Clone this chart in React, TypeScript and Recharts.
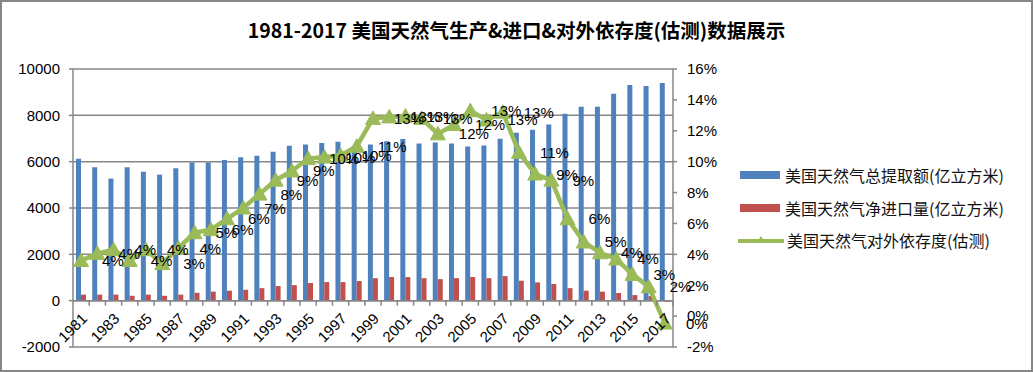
import React from "react";
import {
  ComposedChart,
  Bar,
  Line,
  XAxis,
  YAxis,
  CartesianGrid,
  ReferenceLine,
  Legend,
  LabelList,
} from "recharts";

const years = [
  "1981", "1982", "1983", "1984", "1985", "1986", "1987", "1988", "1989", "1990",
  "1991", "1992", "1993", "1994", "1995", "1996", "1997", "1998", "1999", "2000",
  "2001", "2002", "2003", "2004", "2005", "2006", "2007", "2008", "2009", "2010",
  "2011", "2012", "2013", "2014", "2015", "2016", "2017",
];

// 美国天然气总提取额(亿立方米)
const production = [
  6130, 5760, 5270, 5760, 5570, 5440, 5720, 5960, 5960, 6070,
  6190, 6260, 6430, 6690, 6740, 6810, 6860, 6650, 6740, 6880,
  6980, 6780, 6830, 6780, 6660, 6700, 6990, 7250, 7380, 7600,
  8070, 8370, 8370, 8930, 9310, 9270, 9400,
];

// 美国天然气净进口量(亿立方米)
const netImports = [
  260, 260, 260, 210, 260, 210, 260, 340, 390, 430,
  470, 540, 630, 670, 760, 800, 800, 850, 970, 1020,
  1020, 970, 930, 970, 1020, 970, 1060, 860, 790, 720,
  540, 430, 390, 330, 240, 200, -45,
];

// 美国天然气对外依存度(估测), %
const dependence = [
  3.6, 4.05, 4.3, 3.6, 4.3, 3.4, 4.4, 5.4, 5.6, 6.3,
  7.0, 7.9, 8.8, 9.4, 10.2, 10.3, 10.4, 11.0, 12.8, 12.9,
  12.95, 12.8, 11.8, 12.4, 13.3, 12.7, 13.2, 10.6, 9.2, 8.8,
  6.3, 4.8, 4.1, 3.7, 2.7, 1.9, -0.45,
];

const leftTicks = [-2000, 0, 2000, 4000, 6000, 8000, 10000];
const rightTicks = [-2, 0, 2, 4, 6, 8, 10, 12, 14, 16];

const seriesNames = [
  "美国天然气总提取额(亿立方米)",
  "美国天然气净进口量(亿立方米)",
  "美国天然气对外依存度(估测)",
];

const data = years.map((year, i) => ({
  year,
  production: production[i],
  netImports: netImports[i],
  dependence: dependence[i],
}));

const W = 1033;
const H = 372;
const PLOT_LEFT = 73;
const PLOT_RIGHT = 673;
const PLOT_TOP = 69;
const PLOT_BOTTOM = 347;
const LEFT_MIN = leftTicks[0];
const LEFT_MAX = leftTicks[leftTicks.length - 1];

const GRAY = "#868686";
const BLUE = "#4F81BD";
const RED = "#C0504D";
const GREEN = "#9BBB59";
const NUM_FONT = "'Liberation Sans', Arial, sans-serif";
const CJK_FONT = "'Noto Sans CJK SC', 'Noto Sans', sans-serif";

const zeroY =
  PLOT_BOTTOM - ((PLOT_BOTTOM - PLOT_TOP) * (0 - LEFT_MIN)) / (LEFT_MAX - LEFT_MIN);
const band = (PLOT_RIGHT - PLOT_LEFT) / years.length;

const XTick = (props: any) => {
  const { x, payload, index } = props;
  const tx = x + 7;
  const ty = zeroY + 19;
  return (
    <g>
      <line x1={x + band / 2} x2={x + band / 2} y1={zeroY} y2={zeroY + 5} stroke={GRAY} strokeWidth={1.5} />
      {index % 2 === 0 && (
        <text
          x={tx}
          y={ty}
          textAnchor="end"
          fontSize={15}
          fontFamily={NUM_FONT}
          fill="#000"
          transform={`rotate(-45 ${tx} ${ty})`}
        >
          {payload.value}
        </text>
      )}
    </g>
  );
};

const Triangle = (props: any) => {
  const { cx, cy, index } = props;
  if (cx == null || cy == null) return <g key={index} />;
  return (
    <path
      key={index}
      d={`M${cx},${cy - 7.5} L${cx + 7.5},${cy + 6} L${cx - 7.5},${cy + 6} Z`}
      fill={GREEN}
      stroke={GREEN}
    />
  );
};

const PercentLabel = (props: any) => {
  const { x, y, value } = props;
  return (
    <text
      x={x + 21}
      y={y}
      dominantBaseline="central"
      fontSize={15}
      fontFamily={NUM_FONT}
      fill="#000"
    >
      {`${Math.abs(Math.round(value))}%`}
    </text>
  );
};

const LegendBox = ({ payload }: any) => {
  const items = (payload || [])
    .slice()
    .sort((a: any, b: any) => seriesNames.indexOf(a.value) - seriesNames.indexOf(b.value));
  return (
    <div style={{ fontFamily: CJK_FONT, fontSize: 16, color: "#111" }}>
      {items.map((p: any, i: number) => (
        <div key={i} style={{ display: "flex", alignItems: "center", height: 32.5 }}>
          {p.type === "line" ? (
            <svg width={46} height={12} style={{ marginRight: 3 }}>
              <line x1={1} x2={45} y1={7} y2={7} stroke={GREEN} strokeWidth={4} strokeLinecap="round" />
              <path d="M23,2 L27,8 L19,8 Z" fill={GREEN} />
            </svg>
          ) : (
            <div style={{ width: 40, height: 8, background: p.color, marginLeft: 2, marginRight: 5 }} />
          )}
          <span>{p.value}</span>
        </div>
      ))}
    </div>
  );
};

export default function App() {
  return (
    <div style={{ position: "absolute", left: 0, top: 0, width: W, height: H, background: "#fff" }}>
      <div
        style={{
          position: "absolute",
          left: 0,
          top: 16,
          width: W,
          textAlign: "center",
          fontFamily: CJK_FONT,
          fontWeight: 700,
          fontSize: 19.5,
          lineHeight: "28px",
          color: "#000",
        }}
      >
        1981-2017 美国天然气生产&amp;进口&amp;对外依存度(估测)数据展示
      </div>
      <div style={{ position: "absolute", left: 0, top: 0 }}>
        <ComposedChart
          width={W}
          height={H}
          data={data}
          margin={{ top: PLOT_TOP, right: W - PLOT_RIGHT - 60, bottom: 0, left: 0 }}
          barSize={5}
          barGap={0}
        >
          <CartesianGrid yAxisId="left" horizontal vertical={false} stroke={GRAY} strokeWidth={1.5} />
          <XAxis
            dataKey="year"
            interval={0}
            height={H - PLOT_BOTTOM}
            axisLine={false}
            tickLine={false}
            tickSize={0}
            tick={<XTick />}
          />
          <YAxis
            yAxisId="left"
            width={PLOT_LEFT}
            domain={[LEFT_MIN, LEFT_MAX]}
            ticks={leftTicks}
            interval={0}
            axisLine={{ stroke: GRAY, strokeWidth: 1.5 }}
            tickLine={{ stroke: GRAY, strokeWidth: 1.5 }}
            tickSize={4}
            tickMargin={9}
            tick={{ fontSize: 15, fontFamily: NUM_FONT, fill: "#000" }}
          />
          <YAxis
            yAxisId="right"
            orientation="right"
            width={60}
            domain={[rightTicks[0], rightTicks[rightTicks.length - 1]]}
            ticks={rightTicks}
            interval={0}
            axisLine={{ stroke: GRAY, strokeWidth: 1.5 }}
            tickLine={{ stroke: GRAY, strokeWidth: 1.5 }}
            tickSize={4}
            tickMargin={10}
            tickFormatter={(v: number) => `${v}%`}
            tick={{ fontSize: 15, fontFamily: NUM_FONT, fill: "#000", textAnchor: "start" }}
          />
          <ReferenceLine yAxisId="left" y={0} stroke={GRAY} strokeWidth={1.5} />
          <Bar
            yAxisId="left"
            dataKey="production"
            name={seriesNames[0]}
            fill={BLUE}
            isAnimationActive={false}
          />
          <Bar
            yAxisId="left"
            dataKey="netImports"
            name={seriesNames[1]}
            fill={RED}
            isAnimationActive={false}
          />
          <Line
            yAxisId="right"
            dataKey="dependence"
            name={seriesNames[2]}
            stroke={GREEN}
            strokeWidth={4.5}
            dot={Triangle}
            activeDot={false}
            isAnimationActive={false}
          >
            <LabelList dataKey="dependence" content={<PercentLabel />} />
          </Line>
          <Legend
            layout="vertical"
            align="center"
            verticalAlign="middle"
            wrapperStyle={{ left: 738, top: 159, width: 295 }}
            content={<LegendBox />}
          />
        </ComposedChart>
      </div>
      <div
        style={{
          position: "absolute",
          left: 0,
          top: 0,
          width: W,
          height: H,
          border: `2px solid ${GRAY}`,
          boxSizing: "border-box",
          pointerEvents: "none",
        }}
      />
    </div>
  );
}
